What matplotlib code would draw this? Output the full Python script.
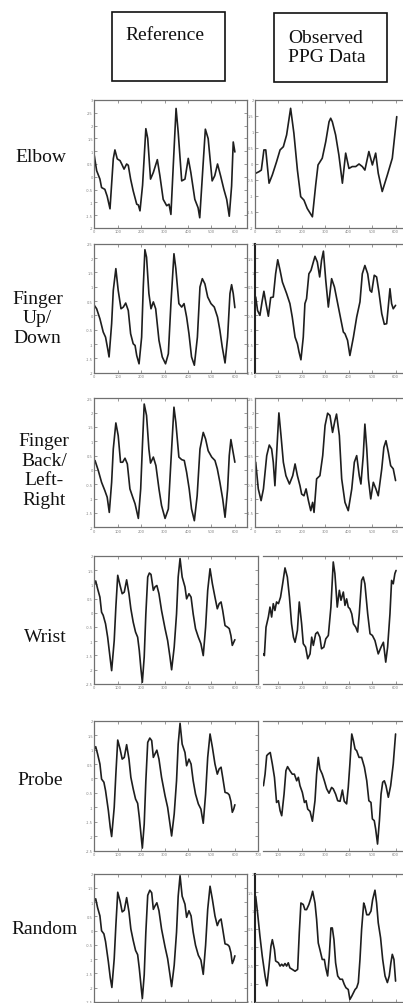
import matplotlib
matplotlib.use("Agg")
import matplotlib.pyplot as plt
from matplotlib.patches import Rectangle
from matplotlib.ticker import FormatStrFormatter, MultipleLocator

# ---------------- data ----------------
row_labels = ["Elbow", "Finger\nUp/\nDown", "Finger\nBack/\nLeft-\nRight", "Wrist", "Probe", "Random"]
header_labels = ["Reference", "Observed\nPPG Data"]

elbow_ref_x = [0,10,24,31,45,55,67,81,88,98,110,117,127,138,145,155,166,181,188,195,206,220,228,240,252,269,280,294,309,319,327,337,349,358,373,387,401,412,429,443,450,464,474,486,503,514,526,539,553,565,576,586,593,600]
elbow_ref_y = [0.83,0.24,-0.09,-0.42,-0.49,-0.76,-1.25,0.70,1.05,0.70,0.63,0.5,0.3,0.5,0.45,-0.09,-0.55,-1.07,-1.1,-1.33,-0.33,1.88,1.5,-0.09,0.17,0.67,0.04,-0.88,-1.13,-1.07,-1.47,0.43,2.67,1.75,-0.16,-0.09,0.72,0.17,-0.88,-1.21,-1.6,0.43,1.86,1.49,-0.16,0.04,0.5,0.04,-0.49,-0.88,-1.54,-0.36,1.36,0.97]
elbow_obs_x = [3,17,27,38,46,60,74,92,107,121,135,152,166,181,195,209,223,245,259,269,287,302,316,323,330,344,358,373,387,401,415,430,444,458,469,486,501,515,526,543,565,586,605]
elbow_obs_y = [-0.29,-0.24,-0.19,0.44,0.44,-0.6,-0.34,0.07,0.44,0.54,0.91,1.74,0.96,-0.19,-1.02,-1.13,-1.39,-1.65,-0.66,-0.03,0.18,0.70,1.32,1.43,1.32,0.91,0.28,-0.6,0.34,-0.14,-0.08,-0.08,0,-0.08,-0.19,0.39,-0.03,0.34,-0.29,-0.86,-0.34,0.18,1.48]

fud_ref_x = [0,10,24,38,48,57,63,74,81,92,102,114,124,134,145,155,166,174,181,191,202,209,216,223,233,242,252,262,276,290,304,316,327,340,348,361,373,383,394,404,415,427,440,451,461,472,484,498,512,526,536,546,558,569,579,586,593,600]
fud_ref_y = [0.35,0.23,-0.12,-0.58,-0.76,-1.16,-1.45,-0.29,0.87,1.63,0.87,0.23,0.29,0.43,0.17,-0.64,-0.99,-1.05,-1.40,-1.69,-0.76,0.99,2.29,2.03,0.76,0.23,0.47,0.23,-0.87,-1.45,-1.69,-1.34,0.41,2.15,1.63,0.41,0.29,0.41,-0.06,-0.64,-1.45,-1.74,-0.76,0.99,1.28,1.1,0.64,0.41,0.29,-0.06,-0.52,-1.1,-1.66,-0.76,0.76,1.07,0.76,0.27]
fud_obs_x = [3,11,21,31,38,47,57,67,78,88,97,107,117,135,149,159,171,181,188,196,206,213,220,230,239,249,256,266,276,284,292,302,313,327,339,353,367,377,384,395,405,420,434,448,458,469,481,491,498,509,519,529,541,552,562,576,583,590,600]
fud_obs_y = [0.14,-0.33,-0.5,0.02,0.34,-0.09,-0.53,0.12,0.14,0.95,1.44,1.07,0.66,0.26,-0.09,-0.56,-1.26,-1.49,-1.78,-2.05,-1.26,-0.09,0.08,0.95,1.07,1.36,1.56,1.36,0.84,1.42,1.74,0.72,-0.21,0.78,0.49,-0.09,-0.67,-1.08,-1.14,-1.37,-1.9,-1.26,-0.56,-0.03,0.95,1.24,0.95,0.37,0.31,0.9,0.84,0.31,-0.44,-0.81,-0.79,0.43,-0.09,-0.27,-0.15]

fbl_ref_x = [3,17,31,45,55,64,74,81,92,102,112,121,131,141,152,164,174,188,198,206,213,223,233,240,252,263,276,287,302,316,326,340,348,361,373,384,394,405,415,427,439,451,465,475,486,501,515,525,536,548,558,569,576,583,590,600]
fbl_ref_y = [0.33,-0.02,-0.43,-0.72,-0.95,-1.48,-0.43,0.73,1.64,1.2,0.27,0.27,0.41,0.21,-0.66,-0.95,-1.18,-1.69,-0.66,0.97,2.3,1.9,0.73,0.24,0.45,0.15,-0.66,-1.24,-1.69,-1.36,0.15,2.19,1.66,0.45,0.36,0.33,-0.08,-0.66,-1.36,-1.77,-0.9,0.73,1.31,1.08,0.67,0.45,0.33,0.04,-0.43,-1.01,-1.65,-0.66,0.5,1.06,0.73,0.27]
fbl_obs_x = [3,14,26,36,50,61,71,78,85,95,102,111,121,132,147,161,171,181,192,199,209,218,228,238,246,252,263,277,289,299,310,320,331,341,348,360,370,384,398,413,424,434,445,452,462,469,477,484,494,505,516,526,541,550,559,569,579,590,600]
fbl_obs_y = [0.27,-0.66,-1.07,-0.66,0.5,0.87,0.73,0.27,-0.55,0.97,1.99,1.2,0.27,-0.2,-0.49,-0.2,0.21,-0.2,-0.55,-0.84,-0.9,-0.66,-1.07,-1.42,-1.13,-1.48,-0.31,-0.2,0.5,1.55,1.98,1.9,1.31,1.72,1.95,1.2,-0.31,-1.13,-1.42,-0.66,0.27,0.5,-0.2,-0.49,0.5,1.6,0.73,-0.31,-1.01,-0.43,-0.66,-0.9,0.04,0.79,1.02,0.62,0.15,0.04,-0.37]

wrist_ref_x = [0,6,14,24,31,38,48,57,67,74,85,92,100,110,119,128,138,148,156,166,176,185,192,199,205,213,220,228,235,242,252,259,267,276,287,302,313,323,330,341,351,358,366,375,387,394,404,413,422,432,444,455,465,475,484,494,504,515,525,533,541,548,558,569,576,583,589,595,600]
wrist_ref_y = [1.02,1.12,0.85,0.55,0.02,-0.09,-0.39,-0.86,-1.56,-2.04,-0.98,0.2,1.32,0.96,0.67,0.73,1.16,0.67,0.14,-0.33,-0.68,-0.86,-1.33,-1.98,-2.45,-1.56,-0.04,1.26,1.4,1.35,0.79,0.91,0.96,0.67,0.08,-0.56,-0.98,-1.56,-2.01,-1.21,-0.04,1.26,1.91,1.26,0.91,0.49,0.67,0.55,-0.04,-0.56,-0.86,-1.09,-1.51,-0.51,0.79,1.55,1.02,0.55,0.14,0.32,0.38,0.08,-0.45,-0.51,-0.56,-0.8,-1.15,-1.04,-0.95]
wrist_obs_x = [36,40,47,57,64,71,78,85,92,100,109,118,128,138,147,156,164,171,181,189,199,206,216,225,235,242,249,259,267,277,284,294,302,313,324,334,341,351,360,367,377,384,391,398,405,413,420,430,438,445,455,462,469,481,491,501,512,526,538,548,558,566,576,583,590,597,602]
wrist_obs_y = [-1.45,-1.51,-0.51,-0.15,0.2,-0.15,0.32,0.08,0.38,0.32,0.55,1.02,1.58,1.26,0.55,-0.39,-0.86,-1.04,-0.62,0.38,-0.39,-1.09,-1.21,-1.62,-1.45,-0.86,-1.15,-0.74,-0.68,-0.86,-1.27,-1.21,-0.92,-0.8,0.2,1.79,1.38,0.2,0.79,0.44,0.73,0.26,0.49,0.2,0.14,-0.04,-0.39,-0.51,-0.68,-0.04,1.14,1.26,1.02,-0.04,-0.74,-0.8,-0.98,-1.45,-1.21,-1.04,-1.74,-1.21,-0.04,1.14,1.02,1.38,1.49]

probe_ref_x = [0,6,14,24,31,41,48,60,68,74,85,92,100,110,119,128,138,148,156,166,176,185,192,199,205,213,220,228,237,245,252,259,267,276,287,302,313,323,330,341,351,358,366,375,387,394,404,413,422,432,444,455,465,475,484,494,504,515,525,533,541,548,558,569,576,583,589,595,600]
probe_ref_y = [1.02,1.1,0.85,0.5,-0.02,-0.13,-0.42,-1.11,-1.69,-2.01,-1.0,0.15,1.33,1.02,0.67,0.73,1.17,0.67,0.04,-0.36,-0.71,-0.86,-1.34,-1.92,-2.41,-1.58,-0.08,1.25,1.4,1.31,0.73,0.85,0.98,0.67,0.04,-0.6,-1.0,-1.58,-1.99,-1.23,-0.08,1.19,1.91,1.19,0.9,0.44,0.67,0.5,-0.08,-0.54,-0.88,-1.06,-1.55,-0.54,0.73,1.54,1.08,0.5,0.15,0.33,0.39,0.04,-0.48,-0.51,-0.57,-0.79,-1.17,-1.06,-0.91]
probe_obs_x = [36,43,50,57,65,74,83,92,100,107,114,124,132,139,149,159,168,178,185,192,202,211,218,225,235,245,256,263,270,277,287,296,306,316,327,334,344,353,363,373,381,391,398,405,413,420,427,434,444,455,467,477,486,495,501,509,515,523,531,538,545,552,559,569,579,590,600]
probe_obs_y = [-0.25,0.15,0.79,0.85,0.9,0.5,0.04,-0.83,-0.77,-1.11,-1.29,-0.54,0.27,0.41,0.27,0.15,0.15,-0.08,0.04,-0.25,-0.48,-0.83,-0.77,-1.06,-1.14,-1.48,-0.77,0.15,0.73,0.33,0.15,-0.08,-0.36,-0.51,-0.31,-0.36,-0.54,-0.77,-0.79,-0.4,-0.79,-0.88,-0.31,0.5,1.54,1.31,1.02,0.96,0.73,0.73,0.39,-0.08,-0.77,-0.83,-1.4,-1.46,-1.75,-2.27,-1.46,-0.54,-0.13,-0.08,-0.25,-0.65,-0.25,0.5,1.54]

random_ref_x = [0,6,14,24,31,41,48,60,68,75,85,92,100,110,119,128,138,148,156,166,176,185,192,199,205,213,220,228,237,245,252,259,267,276,287,302,313,323,330,341,351,358,366,375,387,394,404,413,422,432,444,455,465,475,484,494,504,515,525,533,541,548,558,569,576,583,589,595,600]
random_ref_y = [1.04,1.12,0.81,0.52,0.0,-0.11,-0.38,-1.09,-1.64,-1.99,-0.98,0.18,1.35,1.04,0.66,0.72,1.16,0.66,0.06,-0.34,-0.69,-0.84,-1.32,-1.9,-2.38,-1.55,-0.05,1.24,1.42,1.33,0.75,0.87,0.98,0.7,0.06,-0.57,-0.98,-1.55,-1.96,-1.21,-0.05,1.21,1.93,1.21,0.93,0.47,0.7,0.52,-0.05,-0.51,-0.86,-1.03,-1.53,-0.51,0.75,1.56,1.1,0.52,0.18,0.35,0.41,0.06,-0.46,-0.49,-0.55,-0.77,-1.15,-1.03,-0.88]
random_obs_x = [3,11,21,31,43,51,60,68,74,83,88,100,107,114,121,128,135,142,149,159,171,182,189,196,206,213,220,230,239,246,256,263,270,277,287,296,302,310,317,324,330,337,344,353,363,373,381,388,398,405,413,420,427,434,441,448,455,464,469,477,486,495,502,512,519,526,536,545,555,565,573,580,586,593,600]
random_obs_y = [1.38,0.93,0.3,-0.25,-0.79,-1.06,-0.52,0.02,0.2,-0.07,-0.38,-0.43,-0.52,-0.47,-0.52,-0.45,-0.52,-0.43,-0.57,-0.61,-0.66,-0.61,0.39,1.2,1.16,1.02,1.02,1.16,1.34,1.52,1.2,0.75,0.11,-0.07,-0.34,-0.34,-0.57,-0.79,-0.25,0.52,0.52,0.2,-0.43,-0.79,-0.88,-0.88,-1.02,-1.11,-1.16,-1.43,-1.34,-1.25,-1.16,-1.11,-0.97,-0.34,0.48,1.2,1.11,0.88,0.88,0.98,1.29,1.55,1.2,0.66,0.25,-0.34,-0.79,-0.97,-0.79,-0.43,-0.2,-0.34,-0.93]

ref_ylims = [(-2, 3), (-2, 2.5), (-2, 2.5), (-2.5, 2), (-2.5, 2), (-2.5, 2)]
obs_ylims = [(-2, 2), (-2.5, 2), (-2, 2.5), (-2.5, 2), (-2.5, 2), (-1.5, 2)]
ref_xmax = [650, 650, 650, 700, 700, 650]

# ---------------- layout (pixels) ----------------
W, H = 403, 1004
row_tops = [101, 244.7, 399.3, 557, 721.7, 874.7]
row_bots = [229, 373.7, 528.3, 684.7, 851.7, 1003]
PX_PER_UNIT = 0.2343
LEFT_X0 = 94.3
RIGHT_X0 = 255.0
clipped_right = [False, False, False, True, True, False]
thick_obs_spine = [False, True, False, False, False, True]
label_pos = [(41, 158), (37.5, 319), (44, 471), (45.5, 638), (40.5, 781), (45, 930)]

SERIF = ["Liberation Serif", "DejaVu Serif"]
LINE_C = "#1e1e1e"
SPINE_C = "#707070"

refs = [(elbow_ref_x, elbow_ref_y), (fud_ref_x, fud_ref_y), (fbl_ref_x, fbl_ref_y),
        (wrist_ref_x, wrist_ref_y), (probe_ref_x, probe_ref_y), (random_ref_x, random_ref_y)]
obss = [(elbow_obs_x, elbow_obs_y), (fud_obs_x, fud_obs_y), (fbl_obs_x, fbl_obs_y),
        (wrist_obs_x, wrist_obs_y), (probe_obs_x, probe_obs_y), (random_obs_x, random_obs_y)]

fig = plt.figure(figsize=(W / 100, H / 100), dpi=100)
fig.patch.set_facecolor("white")


def px_axes(x0, x1, ytop, ybot):
    return fig.add_axes([x0 / W, 1 - ybot / H, (x1 - x0) / W, (ybot - ytop) / H])


def style(ax, ylim, xlim, show_xlabels=True):
    ax.set_xlim(*xlim)
    ax.set_ylim(*ylim)
    ax.xaxis.set_major_locator(MultipleLocator(100))
    ax.yaxis.set_major_locator(MultipleLocator(0.5))
    ax.xaxis.set_major_formatter(FormatStrFormatter("%g"))
    ax.yaxis.set_major_formatter(FormatStrFormatter("%g"))
    ax.tick_params(direction="in", top=True, right=True, length=2.0, width=0.5,
                   labelsize=2.6, pad=1.0, colors=SPINE_C, labelcolor="#808080")
    if not show_xlabels:
        ax.tick_params(axis="x", labelbottom=False)
    for s in ax.spines.values():
        s.set_color(SPINE_C)
        s.set_linewidth(0.9)


# overlay for header boxes and row labels
ov = fig.add_axes([0, 0, 1, 1])
ov.set_xlim(0, W)
ov.set_ylim(H, 0)
ov.axis("off")
ov.add_patch(Rectangle((112, 13.3), 113, 69, fill=False, lw=1.2, ec="#111111"))
ov.add_patch(Rectangle((274, 14.3), 113.3, 69, fill=False, lw=1.2, ec="#111111"))
ov.text(165, 36, header_labels[0], family=SERIF, fontsize=14, ha="center", va="center", color="#111111")
ov.text(288, 48, header_labels[1], family=SERIF, fontsize=14, ha="left", va="center",
        color="#111111", linespacing=1.15)
for lab, (lx, ly) in zip(row_labels, label_pos):
    ov.text(lx, ly, lab, family=SERIF, fontsize=14, ha="center", va="center",
            multialignment="center", linespacing=1.22, color="#111111")

for i in range(6):
    top, bot = row_tops[i], row_bots[i]
    last_row = (i == 5)
    # reference panel
    axl = px_axes(LEFT_X0, LEFT_X0 + ref_xmax[i] * PX_PER_UNIT, top, bot)
    style(axl, ref_ylims[i], (0, ref_xmax[i]), show_xlabels=not last_row)
    axl.plot(refs[i][0], refs[i][1], color=LINE_C, lw=1.2,
             solid_joinstyle="round", solid_capstyle="round")

    # observed panel
    if clipped_right[i]:
        x0 = 263.0
        xmin = (x0 - RIGHT_X0) / PX_PER_UNIT
    else:
        x0 = RIGHT_X0
        xmin = 0
    axr = px_axes(x0, RIGHT_X0 + 650 * PX_PER_UNIT, top, bot)
    style(axr, obs_ylims[i], (xmin, 650), show_xlabels=not last_row)
    axr.plot(obss[i][0], obss[i][1], color=LINE_C, lw=1.2,
             solid_joinstyle="round", solid_capstyle="round")
    if clipped_right[i]:
        axr.spines["left"].set_visible(False)
        axr.tick_params(axis="y", left=False, labelleft=False)
    if thick_obs_spine[i]:
        axr.spines["left"].set_color("#222222")
        axr.spines["left"].set_linewidth(1.5)

fig.savefig("out.png", dpi=100, facecolor="white")
